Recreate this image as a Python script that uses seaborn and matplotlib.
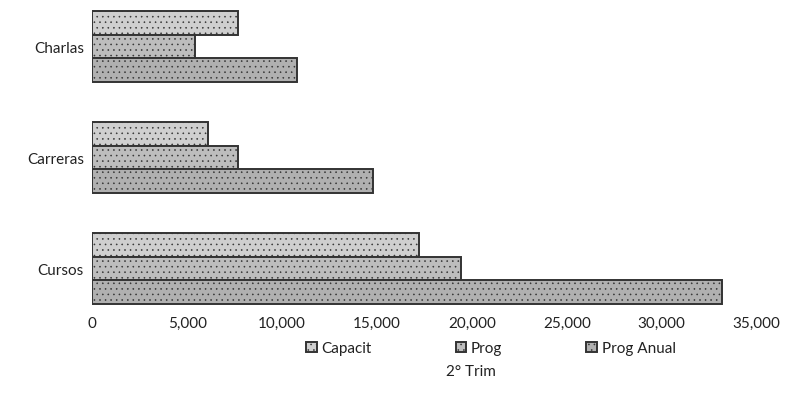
import numpy as np
import pandas as pd
import seaborn as sns
import matplotlib.pyplot as plt

# datos del grafico
categorias = ["Charlas", "Carreras", "Cursos"]
capacit = [7700, 6100, 17200]
prog = [5400, 7700, 19400]
prog_anual = [10800, 14800, 33200]
series = ["Capacit", "Prog", "Prog Anual"]
ticks_x = [0, 5000, 10000, 15000, 20000, 25000, 30000, 35000]

df = pd.DataFrame({
    "cat": categorias * 3,
    "valor": capacit + prog + prog_anual,
    "serie": [series[0]] * 3 + [series[1]] * 3 + [series[2]] * 3,
})

sns.set_style("white")
plt.rcParams['font.family'] = ['Lato', 'DejaVu Sans']
plt.rcParams['hatch.color'] = '#555555'
plt.rcParams['hatch.linewidth'] = 0.4

fig = plt.figure(figsize=(7.89, 4.10), dpi=100)
ax = fig.add_axes([0.117, 0.24, 0.842, 0.75])

colores = ["#cfcfcf", "#bdbdbd", "#b0b0b0"]
sns.barplot(data=df, x="valor", y="cat", hue="serie", order=categorias,
            hue_order=series, palette=colores, orient="h", width=0.64,
            edgecolor="#333333", linewidth=1.4, ax=ax)

# textura punteada
for barra in ax.patches:
    barra.set_hatch("...")

ax.set_xlim(0, 35000)
ax.set_ylim(2.38, -0.39)
ax.set_xticks(ticks_x)
ax.set_xticklabels(["{:,}".format(t) for t in ticks_x], fontsize=11, color="#222222")
ax.tick_params(axis="y", labelsize=11, colors="#222222", length=0, pad=6)
ax.tick_params(axis="x", length=0, pad=4)
ax.set_ylabel("")
ax.set_xlabel("2° Trim", fontsize=11, color="#222222")
ax.xaxis.set_label_coords(0.57, -0.175)
for s in ax.spines.values():
    s.set_visible(False)

leg = ax.legend(loc="upper center", bbox_to_anchor=(0.6, -0.055), ncol=3,
                frameon=False, fontsize=11, handlelength=0.7, handleheight=0.7,
                handletextpad=0.3, columnspacing=5.5)
for t in leg.get_texts():
    t.set_color("#222222")

fig.savefig("out.png", dpi=100)
plt.close()
